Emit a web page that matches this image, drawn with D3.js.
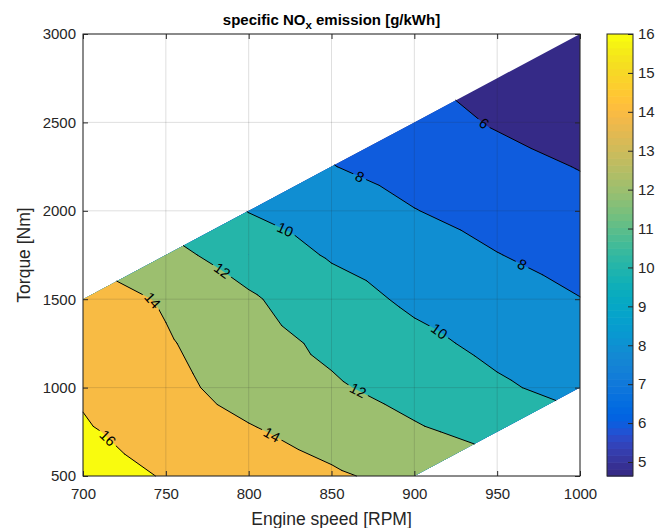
<!DOCTYPE html>
<html><head><meta charset="utf-8">
<script src="https://cdn.jsdelivr.net/npm/d3@7"></script>
<style>body{margin:0;background:#fff}</style>
</head><body>
<svg id="c" width="666" height="528"></svg>
<script>
// ---------- data ----------
const speeds  = [700, 750, 800, 850, 900, 950, 1000];                 // RPM (columns)
const torques = [500, 750, 1000, 1250, 1500, 1750, 2000, 2250, 2500, 2750, 3000]; // Nm (rows)
// specific NOx [g/kWh]; null = outside the engine operating envelope
const noxRows = [
  [16.7, 15.9, 15.08, 14.25, 13.42, null, null],
  [16.2, 15.3, 14.2, 13.28, 12.25, 11.46, null],
  [15.75, 14.58, 13.2, 12.25, 11.26, 10.26, 9.4],
  [15.58, 14.19, 12.8, 11.6, 10.48, 9.52, 8.72],
  [15.0, 13.79, 12.25, 10.8, 9.65, 8.82, 8.04],
  [null, 12.55, 11.1, 9.82, 8.9, 8.05, 7.33],
  [null, null, 9.95, 8.95, 8.05, 7.3, 6.63],
  [null, null, null, 8.05, 7.3, 6.6, 5.93],
  [null, null, null, null, 6.7, 5.85, 5.14],
  [null, null, null, null, null, 5.3, 4.9],
  [null, null, null, null, null, null, 4.65]
];
const levels  = [6, 8, 10, 12, 14, 16];
const xTicks  = [700, 750, 800, 850, 900, 950, 1000];
const yTicks  = [500, 1000, 1500, 2000, 2500, 3000];
const cbTicks = [5, 6, 7, 8, 9, 10, 11, 12, 13, 14, 15, 16];
const colorRange = [4.64, 16];
// where the inline contour labels sit (level, engine speed)
const labelLevels = [6, 8, 8, 10, 10, 12, 12, 14, 14, 16];
const labelSpeeds = [942, 867, 965, 822, 915, 784, 866, 742, 814, 715];

// ---------- style ----------
const parula = ["#352a87","#363093","#3637a0","#353dad","#3243ba","#2c4ac7","#2053d4","#0f5cdd",
"#0363e1","#0268e1","#046de0","#0871de","#0d75dc","#1079da","#127dd8","#1481d6","#1485d4","#1389d3",
"#108ed2","#0c93d2","#0998d1","#079ccf","#06a0cd","#06a4ca","#06a7c6","#07a9c2","#0aacbe","#0faeb9",
"#15b1b4","#1db3af","#25b5a9","#2eb7a4","#38b99e","#42bb98","#4dbc92","#59bd8c","#65be86","#71bf80",
"#7cbf7b","#87bf77","#92bf73","#9cbf6f","#a5be6b","#aebe67","#b7bd64","#c0bc60","#c8bc5d","#d1bb59",
"#d9ba56","#e1b952","#e9b94e","#f1b94a","#f8bb44","#fdbe3d","#ffc337","#fec832","#fcce2e","#fad32a",
"#f7d826","#f5de21","#f5e41d","#f5eb18","#f6f313","#f9fb0e"];
const FONT = "'Liberation Sans', Arial, Helvetica, sans-serif";
const AX = "#262626";
const W = 666, H = 528, L = 83, R = 580, T = 34, B = 476;
const CBL = 607, CBR = 633;

const svg = d3.select("#c");
const xs = d3.scaleLinear().domain(d3.extent(xTicks)).range([L, R]);
const ys = d3.scaleLinear().domain(d3.extent(yTicks)).range([B, T]);
const cmap = v => {
  const t = (v - colorRange[0]) / (colorRange[1] - colorRange[0]);
  let k = Math.floor(t * parula.length);
  k = Math.max(0, Math.min(parula.length - 1, k));
  return parula[k];
};

// ---------- triangulation ----------
const P = (i, j) => ({ px: xs(speeds[i]), py: ys(torques[j]), v: noxRows[j][i], i, j });
const tris = [];
for (let j = 0; j < torques.length - 1; j++) {
  for (let i = 0; i < speeds.length - 1; i++) {
    const a = P(i, j), b = P(i + 1, j), c = P(i + 1, j + 1), d = P(i, j + 1);
    if (a.v != null && b.v != null && c.v != null) tris.push([a, b, c]);
    if (a.v != null && c.v != null && d.v != null) tris.push([a, c, d]);
  }
}
function clipAbove(poly, lev) {
  const out = [];
  for (let k = 0; k < poly.length; k++) {
    const c = poly[k], n = poly[(k + 1) % poly.length];
    const ci = c.v >= lev, ni = n.v >= lev;
    if (ci) out.push(c);
    if (ci !== ni) {
      const t = (lev - c.v) / (n.v - c.v);
      out.push({ px: c.px + t * (n.px - c.px), py: c.py + t * (n.py - c.py), v: lev });
    }
  }
  return out;
}
const polyPath = polys => polys.filter(p => p.length >= 3)
  .map(p => "M" + p.map(q => q.px.toFixed(3) + "," + q.py.toFixed(3)).join("L") + "Z").join("");

// ---------- fills ----------
const gFill = svg.append("g");
gFill.append("path").attr("d", polyPath(tris)).attr("fill", cmap(colorRange[0]));
levels.forEach(lev => {
  gFill.append("path").attr("d", polyPath(tris.map(t => clipAbove(t, lev))))
    .attr("fill", cmap(lev));
});

// ---------- contour lines ----------
function crossing(a, b, lev) {
  let p = a, q = b;
  if (a.i > b.i || (a.i === b.i && a.j > b.j)) { p = b; q = a; }
  const t = (lev - p.v) / (q.v - p.v);
  return [p.px + t * (q.px - p.px), p.py + t * (q.py - p.py)];
}
const segs = [];
levels.forEach(lev => {
  tris.forEach(tr => {
    const pts = [];
    for (let k = 0; k < 3; k++) {
      const a = tr[k], b = tr[(k + 1) % 3];
      if ((a.v >= lev) !== (b.v >= lev)) pts.push(crossing(a, b, lev));
    }
    if (pts.length === 2) segs.push({ lev, p: pts[0], q: pts[1] });
  });
});

const defs = svg.append("defs");
const mask = defs.append("mask").attr("id", "lblgap").attr("maskUnits", "userSpaceOnUse")
  .attr("x", 0).attr("y", 0).attr("width", W).attr("height", H);
mask.append("rect").attr("x", 0).attr("y", 0).attr("width", W).attr("height", H).attr("fill", "#fff");

const gLines = svg.append("g").attr("mask", "url(#lblgap)");
levels.forEach(lev => {
  const d = segs.filter(s => s.lev === lev)
    .map(s => `M${s.p[0].toFixed(3)},${s.p[1].toFixed(3)}L${s.q[0].toFixed(3)},${s.q[1].toFixed(3)}`).join("");
  gLines.append("path").attr("d", d).attr("fill", "none").attr("stroke", "#000")
    .attr("stroke-width", 1).attr("stroke-linecap", "round").attr("stroke-linejoin", "round");
});

// ---------- inline labels ----------
const gLbl = svg.append("g");
labelLevels.forEach((lev, n) => {
  const X = xs(labelSpeeds[n]);
  const s = segs.find(s => s.lev === lev && Math.min(s.p[0], s.q[0]) <= X && Math.max(s.p[0], s.q[0]) >= X);
  if (!s) return;
  const t = (X - s.p[0]) / ((s.q[0] - s.p[0]) || 1);
  const Y = s.p[1] + t * (s.q[1] - s.p[1]);
  let ang = Math.atan2(s.q[1] - s.p[1], s.q[0] - s.p[0]) * 180 / Math.PI;
  if (ang > 90) ang -= 180;
  if (ang < -90) ang += 180;
  const txt = gLbl.append("text").attr("x", 0).attr("y", 0).attr("dy", "0.35em")
    .attr("text-anchor", "middle").attr("font-family", FONT).attr("font-size", 14.5)
    .attr("fill", "#000").attr("transform", `translate(${X},${Y}) rotate(${ang})`).text(lev);
  const w = txt.node().getComputedTextLength() + 6;
  mask.append("rect").attr("x", -w / 2).attr("y", -7).attr("width", w).attr("height", 14)
    .attr("fill", "#000").attr("transform", `translate(${X},${Y}) rotate(${ang})`);
});

// ---------- grid ----------
const gGrid = svg.append("g").attr("stroke", AX).attr("stroke-opacity", 0.15).attr("stroke-width", 1);
xTicks.forEach(v => gGrid.append("line").attr("x1", xs(v)).attr("x2", xs(v)).attr("y1", T).attr("y2", B));
yTicks.forEach(v => gGrid.append("line").attr("x1", L).attr("x2", R).attr("y1", ys(v)).attr("y2", ys(v)));

// ---------- axes ----------
function styleAxis(g) {
  g.attr("font-family", FONT).attr("font-size", 15);
  g.select(".domain").remove();
  g.selectAll(".tick line").attr("stroke", AX);
  g.selectAll(".tick text").attr("fill", AX);
}
svg.append("g").attr("transform", `translate(0,${B})`)
  .call(d3.axisBottom(xs).tickValues(xTicks).tickSize(-5).tickPadding(12).tickFormat(d3.format("d"))).call(styleAxis);
svg.append("g").attr("transform", `translate(0,${T})`)
  .call(d3.axisTop(xs).tickValues(xTicks).tickSize(-5).tickFormat("")).call(styleAxis);
svg.append("g").attr("transform", `translate(${L},0)`)
  .call(d3.axisLeft(ys).tickValues(yTicks).tickSize(-5).tickPadding(7).tickFormat(d3.format("d"))).call(styleAxis);
svg.append("g").attr("transform", `translate(${R},0)`)
  .call(d3.axisRight(ys).tickValues(yTicks).tickSize(-5).tickFormat("")).call(styleAxis);
svg.append("rect").attr("x", L).attr("y", T).attr("width", R - L).attr("height", B - T)
  .attr("fill", "none").attr("stroke", AX).attr("stroke-width", 1);

// ---------- titles ----------
const title = svg.append("text").attr("x", (L + R) / 2).attr("y", 25).attr("text-anchor", "middle")
  .attr("font-family", FONT).attr("font-size", 15).attr("font-weight", "bold").attr("fill", "#000");
title.append("tspan").text("specific NO");
title.append("tspan").attr("dy", 4).attr("font-size", 11.5).text("x");
title.append("tspan").attr("dy", -4).text(" emission [g/kWh]");
svg.append("text").attr("x", (L + R) / 2).attr("y", 525).attr("text-anchor", "middle")
  .attr("font-family", FONT).attr("font-size", 17.5).attr("fill", AX).text("Engine speed [RPM]");
svg.append("text").attr("transform", `translate(30,${(T + B) / 2}) rotate(-90)`).attr("text-anchor", "middle")
  .attr("font-family", FONT).attr("font-size", 17.5).attr("fill", AX).text("Torque [Nm]");

// ---------- colorbar ----------
const yc = d3.scaleLinear().domain(colorRange).range([B, T]);
const step = (colorRange[1] - colorRange[0]) / parula.length;
const gCb = svg.append("g");
parula.forEach((col, k) => {
  const y0 = yc(colorRange[0] + k * step), y1 = yc(colorRange[0] + (k + 1) * step);
  gCb.append("rect").attr("x", CBL).attr("width", CBR - CBL).attr("y", y1).attr("height", y0 - y1 + 0.6).attr("fill", col);
});
svg.append("g").attr("transform", `translate(${CBR},0)`)
  .call(d3.axisRight(yc).tickValues(cbTicks).tickSize(-5).tickPadding(5).tickFormat(d3.format("d"))).call(styleAxis);
svg.append("rect").attr("x", CBL).attr("y", T).attr("width", CBR - CBL).attr("height", B - T)
  .attr("fill", "none").attr("stroke", AX).attr("stroke-width", 1);
</script>
</body></html>
